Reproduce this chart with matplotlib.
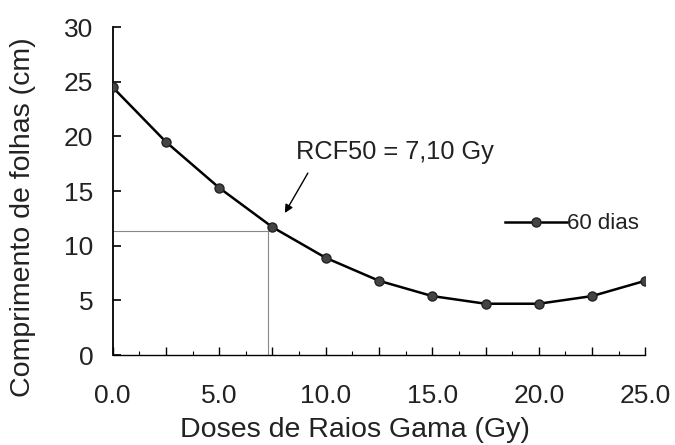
import matplotlib
matplotlib.use("Agg")
import matplotlib.pyplot as plt
from matplotlib.ticker import MultipleLocator, FuncFormatter

plt.rcParams['font.family'] = ['Liberation Sans', 'DejaVu Sans']

doses = [0.0, 2.5, 5.0, 7.5, 10.0, 12.5, 15.0, 17.5, 20.0, 22.5, 25.0]
comprimento = [24.5, 19.5, 15.3, 11.7, 8.9, 6.8, 5.4, 4.7, 4.7, 5.4, 6.8]
serie_label = "60 dias"
rcf_x = 7.3
rcf_y = 11.35
rcf_text = "RCF50 = 7,10 Gy"

fig = plt.figure(figsize=(6.75, 4.45), dpi=100)
ax = fig.add_axes([0.167, 0.202, 0.789, 0.737])

ax.plot([0, rcf_x], [rcf_y, rcf_y], color='#888888', lw=0.8, zorder=1)
ax.plot([rcf_x, rcf_x], [0, rcf_y], color='#888888', lw=0.8, zorder=1)

ax.plot(doses, comprimento, color='black', lw=1.8, marker='o', ms=6.5,
        mfc='#444444', mec='#222222', zorder=3, label=serie_label)

ax.set_xlim(0, 25)
ax.set_ylim(0, 30)
ax.spines['top'].set_visible(False)
ax.spines['right'].set_visible(False)
ax.spines['left'].set_linewidth(1.3)
ax.spines['bottom'].set_linewidth(1.0)

ax.yaxis.set_major_locator(MultipleLocator(5))
ax.xaxis.set_major_locator(MultipleLocator(2.5))
ax.xaxis.set_minor_locator(MultipleLocator(1.25))
ax.xaxis.set_major_formatter(FuncFormatter(lambda v, p: f"{v:.1f}" if abs(v % 5) < 1e-6 else ""))
ax.tick_params(axis='y', direction='in', length=6, width=1.2, labelsize=19, pad=14,
               labelcolor='#222222')
ax.tick_params(axis='x', which='major', direction='in', length=6, width=1.0, labelsize=19, pad=21,
               labelcolor='#222222')
ax.tick_params(axis='x', which='minor', direction='in', length=3, width=0.8)

xl = ax.set_xlabel("Doses de Raios Gama (Gy)", fontsize=20.5, color='#222222')
ax.xaxis.set_label_coords(0.455, -0.229)
xl.set_va('center')
xl.set_ha('center')
yl = ax.set_ylabel("Comprimento de folhas (cm)", fontsize=20.5, color='#222222')
ax.yaxis.set_label_coords(-0.168, 0.42)
yl.set_va('center')
yl.set_ha('center')

ax.text(8.6, 18.57, rcf_text, fontsize=18.3, ha='left', va='center', color='#222222')
ax.annotate('', xy=(8.08, 13.0), xytext=(9.16, 16.65),
            arrowprops=dict(arrowstyle='-|>', color='black', lw=1.0,
                            mutation_scale=12, shrinkA=0, shrinkB=0))

leg = ax.legend(loc='center left', bbox_to_anchor=(0.72, 0.40), frameon=False,
                fontsize=16, handlelength=2.8, handletextpad=0.0, borderaxespad=0)
for t in leg.get_texts():
    t.set_color('#222222')

fig.savefig("out.png", dpi=100)
